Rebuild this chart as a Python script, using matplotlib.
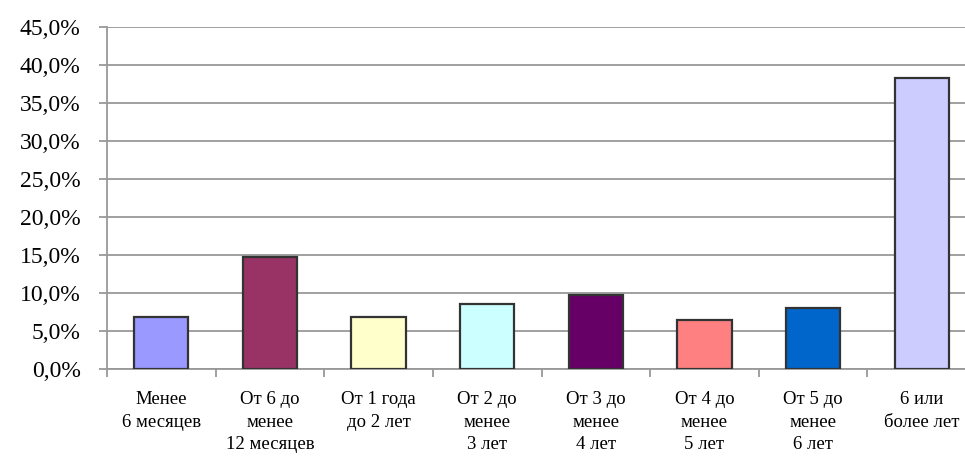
import matplotlib
matplotlib.use("Agg")
import matplotlib.pyplot as plt
import numpy as np
from matplotlib.ticker import FuncFormatter, FixedLocator

categories = ["Менее\n6 месяцев", "От 6 до\nменее\n12 месяцев", "От 1 года\nдо 2 лет",
              "От 2 до\nменее\n3 лет", "От 3 до\nменее\n4 лет", "От 4 до\nменее\n5 лет",
              "От 5 до\nменее\n6 лет", "6 или\nболее лет"]
values = [6.8, 14.8, 6.9, 8.6, 9.8, 6.4, 8.0, 38.3]
colors = ["#9999FF", "#993366", "#FFFFCC", "#CCFFFF", "#660066", "#FF8080", "#0066CC", "#CCCCFF"]

fig = plt.figure(figsize=(9.65, 4.57), dpi=100)
ax = fig.add_axes([107/965, 88/457, 869/965, 342/457])

x = np.arange(len(categories))
ax.bar(x, values, width=0.5, color=colors, edgecolor="#333333", linewidth=1.6, zorder=3)

ax.set_xlim(-0.5, len(categories) - 0.5)
ax.set_ylim(0, 45)
ax.set_yticks(np.arange(0, 46, 5))
ax.yaxis.set_major_formatter(FuncFormatter(lambda v, p: f"{v:.1f}%".replace(".", ",")))
ax.grid(axis="y", color="#999999", linewidth=1.3, zorder=0)
ax.set_axisbelow(True)

for s in ["top", "right"]:
    ax.spines[s].set_visible(False)
for s in ["left", "bottom"]:
    ax.spines[s].set_color("#999999")
    ax.spines[s].set_linewidth(1.3)

ax.set_xticks(x)
ax.set_xticklabels(categories, fontfamily="Liberation Serif", fontsize=13.5, linespacing=1.42)
ax.tick_params(axis="x", which="major", length=0, pad=16)
ax.xaxis.set_minor_locator(FixedLocator(np.arange(-0.5, len(categories), 1.0)))
ax.tick_params(axis="x", which="minor", length=6, color="#999999", width=1.3)
ax.tick_params(axis="y", length=6, color="#999999", width=1.3, pad=13,
               labelsize=17, labelfontfamily="Liberation Serif", labelcolor="black")

fig.savefig("out.png", dpi=100)
